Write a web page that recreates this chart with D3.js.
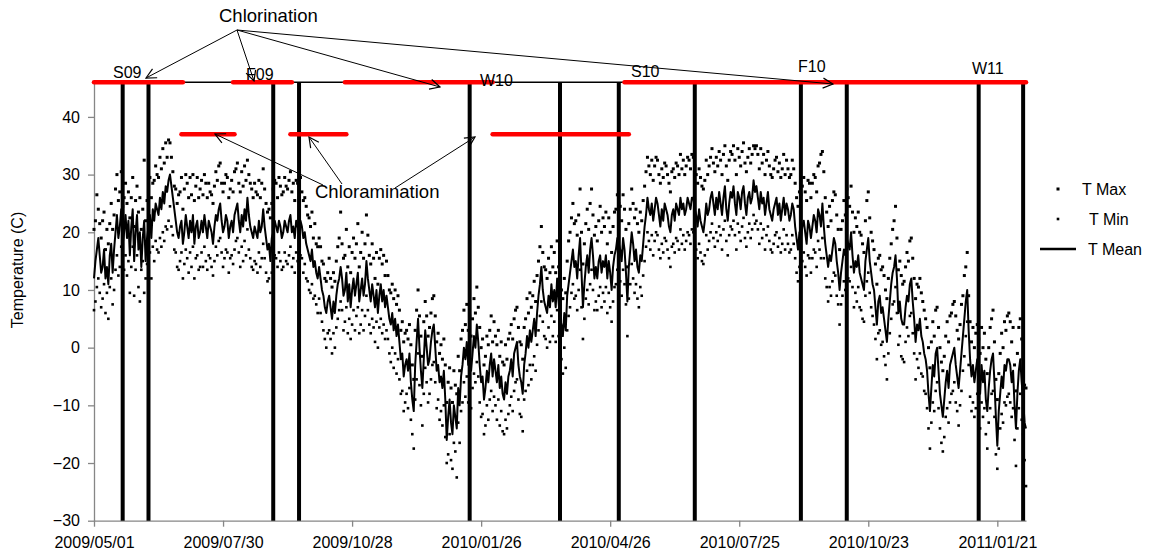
<!DOCTYPE html>
<html>
<head>
<meta charset="utf-8">
<script src="https://cdn.jsdelivr.net/npm/d3@7"></script>
<style>
  body { margin: 0; background: #fff; }
  text { font-family: Arial, "Liberation Sans", sans-serif; }
</style>
</head>
<body>
<script>
/* ---------------------------------- Data ---------------------------------- */
// daily values, first entry = startDate
const startDate = "2009-05-01";
const endDate = "2011-02-10";

const tMean = [
  12,15,17,19,16,13,14,17,12,14, 11,16,18,13,17,20,23,19,21,24,
  18,20,23,19,22,16,21,24,15,20, 23,17,20,14,19,22,15,19,21,23,
  19,24,22,25,24,23,26,24,27,25, 28,27,29,30,28,26,24,22,20,19,
  21,22,18,20,23,21,19,22,20,23, 18,21,22,19,20,22,20,23,21,19,
  22,21,20,18,21,23,22,24,25,22, 20,21,23,22,19,21,22,20,23,24,
  25,22,20,23,21,24,22,26,23,21, 20,19,21,20,19,22,20,21,24,21,
  19,17,18,15,19,20,22,21,20,22, 21,19,20,22,21,20,22,23,20,21,
  19,22,21,20,22,21,19,20,18,17, 16,15,17,14,15,13,12,14,12,10,
  9,7,6,8,9,7,5,8,6,9, 11,12,14,12,9,10,13,8,11,7,
  10,12,9,11,13,8,10,12,9,11, 15,12,10,8,11,9,7,10,6,9,
  11,8,10,7,9,7,5,4,6,3, 5,2,4,1,-2,-1,-5,-3,-2,-4,
  -1,-6,-9,-11,-3,1,5,0,-4,-7, -2,3,0,-3,-2,1,3,4,0,-4,
  -3,-6,-5,-7,-4,-9,-16,-12,-9,-13, -15,-10,-12,-14,-7,-10,-5,-3,0,-2,
  1,-3,-1,-4,-1,2,0,4,1,-3, -6,-5,-9,-7,-4,-6,-3,-1,-5,-2,
  -4,-6,-3,-7,-5,-8,-9,-6,-8,-5, -4,-2,-5,-1,0,1,-3,-5,-6,-8,
  -3,-1,2,0,3,1,3,5,2,6, 9,11,14,10,8,7,6,9,7,11,
  8,10,7,12,8,5,4,2,6,3, 9,11,13,15,17,14,15,12,16,19,
  13,7,11,14,16,13,17,19,16,12, 14,12,15,16,13,15,14,16,12,15,
  13,10,14,16,17,19,18,17,15,19, 17,13,8,14,17,20,18,15,17,14,
  13,16,15,18,21,23,26,24,23,25, 22,24,26,25,23,21,24,22,25,24,
  23,21,20,23,24,22,25,24,23,26, 24,25,23,24,26,25,24,26,26,24,
  23,21,24,22,21,20,22,25,23,24, 26,27,25,23,26,24,27,25,23,26,
  28,24,22,25,27,26,28,25,23,27, 26,24,27,28,25,23,26,27,25,26,
  29,27,28,26,24,27,25,26,23,25, 27,24,23,22,24,25,26,23,25,22,
  24,26,23,25,24,22,23,25,24,21, 19,17,20,19,21,22,20,18,22,21,
  19,21,23,22,20,24,23,21,25,21, 18,16,14,16,15,17,19,18,15,13,
  10,13,15,17,16,19,18,17,20,16, 13,15,14,16,13,12,11,10,15,17,
  19,15,13,11,10,7,4,8,9,6, 7,5,3,1,5,8,11,13,14,16,
  12,6,8,5,4,4,7,9,8,11, 12,8,5,1,4,3,5,2,1,-1,
  -2,-4,-8,-11,-7,-3,-5,-1,0,-4, -8,-10,-12,-9,-6,-4,-7,-3,-2,-1,
  0,-3,-5,-7,-4,-1,2,5,8,10, 3,-2,-5,-3,-6,-4,-2,-5,-8,-3,
  -6,-4,-9,-11,-7,-4,-2,-1,-6,-12, -17,-11,-8,-5,-7,-3,-4,-2,-2,-3,
  -6,-4,-10,-14,-8,-4,-2,-6,-9,-13, -14
];

const tMax = [
  20.5,22,26.5,24,21.5,19,22,23.5,17,20.5, 18,21.5,25,20.5,23,27.5,30,25.5,27,30.5,
  24.5,26,28.5,25,27,22.5,26,29.5,21,25.5, 28,23.5,26,20.5,24,32.5,22,25.5,27,29.5,
  26,28.5,29,31.5,30,29.5,33,31,34.5,32, 35.5,33,36,35.5,33,30.5,28,27.5,25,26.5,
  27,29.5,24,27.5,30,28.5,26,29.5,26.5,30, 25.5,28,29.5,26,27.5,29,26.5,30,28.5,26,
  28.5,27,26.5,25,28,30.5,29,31.5,32,28.5, 27,28.5,30,29.5,26,27.5,29,27,30.5,31,
  32,28.5,27,30.5,28,31.5,29,32.5,30,28.5, 27.5,26,28.5,27,26.5,29,26,28.5,31,27.5,
  25,23.5,24,22.5,25,27.5,29,28.5,26,29.5, 28,26.5,27,29.5,28,27.5,29,30.5,27,28.5,
  25.5,29,28.5,26,29.5,27,25.5,26,24.5,23, 22.5,21,23.5,19,21.5,18,17.5,19,17.5,15,
  14.5,12,11.5,13,15.5,12,10.5,13,11.5,15, 17.5,19,23.5,18,15.5,16,20.5,14,17.5,13,
  16.5,19,15.5,18,21.5,14,16.5,20,15.5,18, 23,19.5,16,14.5,18,15.5,12,16.5,11,15.5,
  17,14.5,16,12.5,15,12.5,10,9.5,11,8.5, 10,7.5,9,6.5,3,4.5,1,2.5,3,1.5,
  4,0.5,-3,-5.5,3,6.5,10,5.5,2,-1.5, 4.5,8,5.5,2,3.5,6,8.5,9,5.5,1,
  2.5,-1,0.5,-2,1.5,-3,-9.5,-6,-3.5,-7, -9.5,-4,-6.5,-8,-1.5,-4,1.5,3,6.5,4,
  7.5,3,5.5,2,5,8.5,6,10.5,7,3.5, 0,1.5,-3,-1.5,2,0.5,3,5.5,1,4.5,
  2,0.5,3,-1.5,1,-2.5,-3,0.5,-2,1.5, 2.5,4,1.5,5,6.5,7,3.5,1,0.5,-2,
  3.5,5,8.5,6,9.5,7,9,11.5,8,12.5, 15,17.5,21,16.5,14,13.5,12,15.5,13,17.5,
  14,16.5,13,18.5,14,11.5,10,8.5,12,9.5, 15,18.5,20,22.5,25,21.5,22,19.5,23,27.5,
  20,14.5,18,21.5,24,20.5,25,27.5,23,19.5, 21,18.5,22,24.5,20,22.5,21,23.5,18,22.5,
  20,16.5,21,23.5,24,26.5,25,24.5,22,26.5, 24,20.5,14,21.5,24,27.5,25,22.5,24,21.5,
  20,23.5,22,25.5,28,30.5,33,31.5,30,32.5, 29,31.5,33,32.5,30,28.5,31,29.5,32,31.5,
  30,28.5,27,30.5,31,29.5,32,31.5,30,33.5, 31,32.5,30,31.5,33,32.5,31,33.5,33,31.5,
  30,28.5,31,29.5,28,27.5,29,32.5,30,31.5, 33,34.5,32,30.5,33,31.5,34,32.5,30,33.5,
  35,31.5,29,32.5,34,33.5,35,32.5,30,34.5, 33,31.5,34,35.5,32,30.5,33,34.5,32,33.5,
  35,34.5,35,33.5,31,34.5,32,33.5,30,32.5, 34,31.5,30,29.5,31,32.5,33,30.5,32,29.5,
  31,33.5,30,32.5,31,29.5,30,32.5,31,28.5, 26,24.5,27,26.5,28,29.5,27,25.5,29,28.5,
  26,28.5,30,29.5,27,31.5,32,33.5,34,30.5, 26,23.5,21,24.5,22,25.5,27,26.5,23,20.5,
  17,20.5,22,25.5,23,27.5,26,24.5,28,23.5, 20,22.5,21,23.5,20,19.5,18,16.5,22,25.5,
  27,22.5,20,18.5,17,14.5,11,15.5,16,13.5, 14,12.5,10,8.5,12,15.5,18,20.5,22,24.5,
  19,13.5,15,12.5,11,11.5,14,16.5,15,18.5, 19,15.5,12,8.5,11,10.5,12,9.5,8,6.5,
  5,3.5,0,-3.5,1,4.5,2,6.5,7,3.5, 0,-2.5,-4,-1.5,2,4.5,1,5.5,6,7.5,
  8,5.5,3,1.5,4,7.5,9,12.5,14,16.5, 9,4.5,1,3.5,0,2.5,4,1.5,-1,3.5,
  0,2.5,-2,-4.5,0,3.5,5,6.5,1,-5.5, -9,-4.5,-1,2.5,0,4.5,3,5.5,6,4.5,
  1,3.5,-3,-7.5,-1,3.5,5,1.5,-2,-6.5, -7
];

const tMin = [
  6.5,8,10.5,12,9.5,7,8.5,11,6,9.5, 5,10.5,12,7.5,10,13.5,16,12.5,14,17.5,
  11,13.5,16,12.5,15,9.5,14,17.5,9,13.5, 16,10.5,8,13.5,15,9.5,12,14.5,15,16.5,
  12,17.5,15,18.5,17,16.5,19,17.5,20,18.5, 21,20.5,22,24.5,21,19.5,17,16.5,14,13.5,
  15,16.5,12,14.5,17,15.5,13,16.5,14,17.5, 12,15.5,16,13.5,14,16.5,14,17.5,15,13.5,
  16,15.5,14,12.5,15,17.5,16,18.5,19,16.5, 14,15.5,17,16.5,13,15.5,16,14.5,17,18.5,
  19,16.5,14,17.5,15,18.5,16,20.5,17,15.5, 14,13.5,15,14.5,13,16.5,14,15.5,18,15.5,
  13,11.5,12,9.5,13,14.5,16,15.5,14,16.5, 15,13.5,14,16.5,15,14.5,16,17.5,14,15.5,
  13,16.5,15,14.5,16,15.5,13,14.5,12,11.5, 10,9.5,11,8.5,9,7.5,6,8.5,6,4.5,
  3,1.5,0,2.5,3,1.5,-1,2.5,0,3.5, 5,6.5,8,6.5,3,4.5,7,2.5,5,1.5,
  4,6.5,3,5.5,7,2.5,4,6.5,3,5.5, 9,6.5,4,2.5,5,3.5,1,4.5,0,3.5,
  5,2.5,4,1.5,3,1.5,-1,-2.5,0,-3.5, -1,-4.5,-2,-5.5,-8,-7.5,-11,-9.5,-8,-10.5,
  -7,-12.5,-15,-17.5,-9,-5.5,-1,-6.5,-10,-13.5, -8,-3.5,-6,-9.5,-8,-5.5,-3,-2.5,-6,-10.5,
  -9,-12.5,-11,-13.5,-10,-15.5,-20,-18.5,-15,-19.5, -21,-16.5,-18,-22.5,-13,-16.5,-11,-9.5,-6,-8.5,
  -5,-9.5,-7,-10.5,-7,-4.5,-6,-2.5,-5,-9.5, -12,-11.5,-15,-13.5,-10,-12.5,-9,-7.5,-11,-8.5,
  -10,-12.5,-9,-13.5,-11,-14.5,-15,-12.5,-14,-11.5, -10,-8.5,-11,-7.5,-6,-5.5,-9,-11.5,-12,-14.5,
  -9,-7.5,-4,-6.5,-3,-5.5,-3,-1.5,-4,0.5, 3,5.5,8,4.5,2,1.5,0,3.5,1,5.5,
  2,4.5,1,6.5,2,-1.5,-2,-4.5,0,-3.5, 3,5.5,7,9.5,11,8.5,9,6.5,10,13.5,
  7,1.5,5,8.5,10,7.5,11,13.5,10,6.5, 8,6.5,9,10.5,7,9.5,8,10.5,6,9.5,
  7,4.5,8,10.5,11,13.5,12,11.5,9,13.5, 11,7.5,2,8.5,11,14.5,12,9.5,11,8.5,
  7,10.5,9,12.5,15,17.5,20,18.5,17,19.5, 16,18.5,20,19.5,17,15.5,18,16.5,19,18.5,
  17,15.5,14,17.5,18,16.5,19,18.5,17,20.5, 18,19.5,17,18.5,20,19.5,18,20.5,20,18.5,
  17,15.5,18,16.5,15,14.5,16,19.5,17,18.5, 20,21.5,19,17.5,20,18.5,21,19.5,17,20.5,
  22,18.5,16,19.5,21,20.5,22,19.5,17,21.5, 20,18.5,21,22.5,19,17.5,20,21.5,19,20.5,
  23,21.5,22,20.5,18,21.5,19,20.5,17,19.5, 21,18.5,17,16.5,18,19.5,20,17.5,19,16.5,
  18,20.5,17,19.5,18,16.5,17,19.5,18,15.5, 13,11.5,14,13.5,15,16.5,14,12.5,16,15.5,
  13,15.5,17,16.5,14,18.5,17,15.5,19,15.5, 12,10.5,8,10.5,9,11.5,13,12.5,9,7.5,
  4,7.5,9,11.5,10,13.5,12,11.5,14,10.5, 7,9.5,8,10.5,7,6.5,5,4.5,9,11.5,
  13,9.5,7,5.5,4,1.5,-2,2.5,3,0.5, 1,-1.5,-3,-5.5,-1,2.5,5,7.5,8,10.5,
  6,0.5,2,-1.5,-2,-2.5,1,3.5,2,5.5, 6,2.5,-1,-5.5,-2,-3.5,-1,-4.5,-5,-7.5,
  -8,-10.5,-14,-17.5,-13,-9.5,-11,-7.5,-6,-10.5, -14,-16.5,-18,-15.5,-12,-10.5,-13,-9.5,-8,-7.5,
  -6,-9.5,-11,-13.5,-10,-7.5,-4,-1.5,2,4.5, -3,-8.5,-11,-9.5,-12,-10.5,-8,-11.5,-14,-9.5,
  -12,-10.5,-15,-17.5,-13,-10.5,-8,-7.5,-12,-18.5, -21,-17.5,-14,-11.5,-13,-9.5,-10,-8.5,-8,-9.5,
  -12,-10.5,-16,-20.5,-14,-10.5,-8,-12.5,-15,-19.5, -24
];

// sampling events (vertical bars)
const samplingDates = ["2009-05-21", "2009-06-08", "2009-09-03", "2009-09-21", "2010-01-18", "2010-03-22",
  "2010-05-02", "2010-06-24", "2010-09-06", "2010-10-08", "2011-01-08", "2011-02-08"];
const seasonLabels = ["S09", "F09", "W10", "S10", "F10", "W11"];

// disinfection periods
const chlorinationPeriods = [["2009-05-01", "2009-07-02"], ["2009-08-06", "2009-09-16"],
  ["2009-10-23", "2010-02-03"], ["2010-05-06", "2011-02-10"]];
const chloraminationPeriods = [["2009-07-01", "2009-08-07"], ["2009-09-15", "2009-10-24"],
  ["2010-02-03", "2010-05-09"]];
const chlorinationLevel = 46;
const chloraminationLevel = 37;

const xTicks = ["2009-05-01", "2009-07-30", "2009-10-28", "2010-01-26", "2010-04-26", "2010-07-25", "2010-10-23", "2011-01-21"];
const yTicks = [-30, -20, -10, 0, 10, 20, 30, 40];

/* --------------------------------- Layout --------------------------------- */
const width = 1151;
const height = 556;
const plot = { left: 94, right: 1026, top: 82.3, bottom: 520.7 };
const axisColor = "#868686";

const parse = d3.utcParse("%Y-%m-%d");
const day0 = parse(startDate);
const dayOf = i => d3.utcDay.offset(day0, i);

const svg = d3.select("body").append("svg")
  .attr("width", width)
  .attr("height", height);

const x = d3.scaleUtc()
  .domain([day0, parse(endDate)])
  .range([plot.left, plot.right]);
const y = d3.scaleLinear()
  .domain([-30, 46])
  .range([plot.bottom, plot.top]);

// arrow head
svg.append("defs").append("marker")
  .attr("id", "arrow")
  .attr("viewBox", "0 0 12 12")
  .attr("refX", 11).attr("refY", 6)
  .attr("markerWidth", 12).attr("markerHeight", 12)
  .attr("markerUnits", "userSpaceOnUse")
  .attr("orient", "auto")
  .append("path")
  .attr("d", "M1,1 L11,6 L1,11")
  .attr("fill", "none")
  .attr("stroke", "#000")
  .attr("stroke-width", 1.2);

/* ---------------------------------- Axes ---------------------------------- */
const xAxis = svg.append("g")
  .attr("transform", `translate(0,${plot.bottom})`)
  .call(d3.axisBottom(x)
    .tickValues(xTicks.map(parse))
    .tickFormat(d3.utcFormat("%Y/%m/%d"))
    .tickSize(6).tickPadding(10).tickSizeOuter(0));
const yAxis = svg.append("g")
  .attr("transform", `translate(${plot.left},0)`)
  .call(d3.axisLeft(y)
    .tickValues(yTicks)
    .tickSize(6).tickPadding(8).tickSizeOuter(0));

[xAxis, yAxis].forEach(g => {
  g.select(".domain").attr("stroke", axisColor).attr("stroke-width", 1.3);
  g.selectAll(".tick line").attr("stroke", axisColor).attr("stroke-width", 1.3);
  g.selectAll(".tick text").attr("fill", "#000").style("font-size", "16px")
    .style("font-family", "Arial, 'Liberation Sans', sans-serif");
});

svg.append("text")
  .attr("transform", "translate(23,270) rotate(-90)")
  .attr("text-anchor", "middle")
  .style("font-size", "16px")
  .text("Temperature (C)");

/* ------------------------------- Temperature ------------------------------- */
const maxSize = 3, minSize = 2.6;
svg.append("g").selectAll("rect")
  .data(tMax)
  .join("rect")
  .attr("x", (d, i) => x(dayOf(i)) - maxSize / 2)
  .attr("y", d => y(d) - maxSize / 2)
  .attr("width", maxSize).attr("height", maxSize)
  .attr("fill", "#000");
svg.append("g").selectAll("rect")
  .data(tMin)
  .join("rect")
  .attr("x", (d, i) => x(dayOf(i)) - minSize / 2)
  .attr("y", d => y(d) - minSize / 2)
  .attr("width", minSize).attr("height", minSize)
  .attr("fill", "#000");

svg.append("path")
  .datum(tMean)
  .attr("fill", "none")
  .attr("stroke", "#000")
  .attr("stroke-width", 2)
  .attr("stroke-linejoin", "round")
  .attr("d", d3.line().x((d, i) => x(dayOf(i))).y(d => y(d)));

/* ---------------------------- Sampling + periods ---------------------------- */
svg.append("line")
  .attr("x1", x.range()[0]).attr("x2", x.range()[1])
  .attr("y1", y(chlorinationLevel)).attr("y2", y(chlorinationLevel))
  .attr("stroke", "#000").attr("stroke-width", 1.5);

svg.append("g").selectAll("line")
  .data(samplingDates.map(parse))
  .join("line")
  .attr("x1", d => x(d)).attr("x2", d => x(d))
  .attr("y1", y(-30)).attr("y2", y(chlorinationLevel))
  .attr("stroke", "#000").attr("stroke-width", 4);

const periods = [
  ...chlorinationPeriods.map(p => ({ p, level: chlorinationLevel })),
  ...chloraminationPeriods.map(p => ({ p, level: chloraminationLevel }))
];
svg.append("g").selectAll("line")
  .data(periods)
  .join("line")
  .attr("x1", d => x(parse(d.p[0]))).attr("x2", d => x(parse(d.p[1])))
  .attr("y1", d => y(d.level)).attr("y2", d => y(d.level))
  .attr("stroke", "#ff0000").attr("stroke-width", 4.5)
  .attr("stroke-linecap", "round");

/* ------------------------------- Annotations ------------------------------- */
const seasonPos = [[113, 78], [246, 80], [480, 86], [631, 77], [798, 72], [972, 74]];
svg.append("g").selectAll("text")
  .data(seasonLabels)
  .join("text")
  .attr("x", (d, i) => seasonPos[i][0])
  .attr("y", (d, i) => seasonPos[i][1])
  .style("font-size", "16px")
  .text(d => d);

const arrows = [
  [237, 30, 146, 78], [237, 30, 254, 81], [237, 30, 440, 87], [237, 30, 833, 84],
  [323, 185, 215, 134], [342, 184, 309, 137], [395, 188, 475, 137]
];
svg.append("g").selectAll("line")
  .data(arrows)
  .join("line")
  .attr("x1", d => d[0]).attr("y1", d => d[1])
  .attr("x2", d => d[2]).attr("y2", d => d[3])
  .attr("stroke", "#000").attr("stroke-width", 1)
  .attr("marker-end", "url(#arrow)");

svg.append("text").attr("x", 219).attr("y", 22)
  .style("font-size", "18.5px").text("Chlorination");
svg.append("text").attr("x", 315).attr("y", 198)
  .style("font-size", "18.5px").text("Chloramination");

/* --------------------------------- Legend --------------------------------- */
const legend = svg.append("g");
legend.append("rect").attr("x", 1056.5).attr("y", 187.5).attr("width", maxSize).attr("height", maxSize);
legend.append("text").attr("x", 1082).attr("y", 195).style("font-size", "16px").text("T Max");
legend.append("rect").attr("x", 1056.7).attr("y", 217.7).attr("width", minSize).attr("height", minSize);
legend.append("text").attr("x", 1089).attr("y", 225).style("font-size", "16px").text("T Min");
legend.append("line").attr("x1", 1040).attr("x2", 1076).attr("y1", 249).attr("y2", 249)
  .attr("stroke", "#000").attr("stroke-width", 2.5);
legend.append("text").attr("x", 1088).attr("y", 255).style("font-size", "16px").text("T Mean");
</script>
</body>
</html>
